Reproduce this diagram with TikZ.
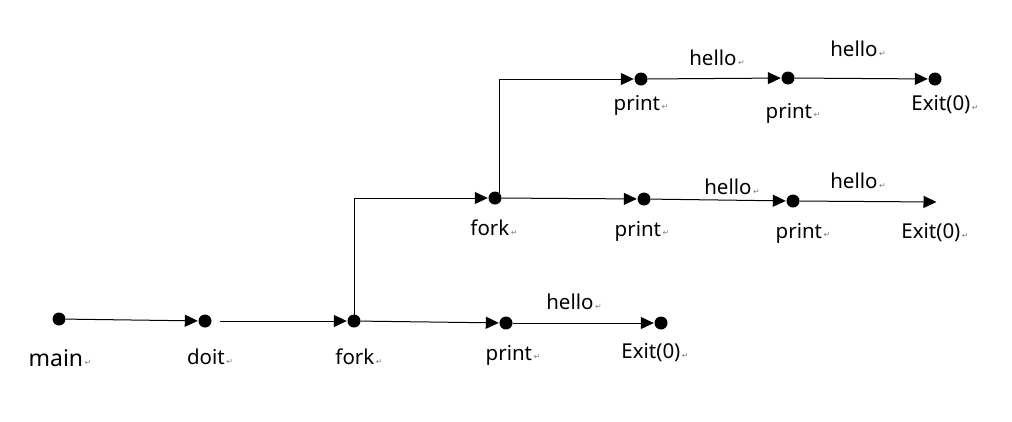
\documentclass[tikz,border=0pt]{standalone}
\usepackage{fontspec}
\setmainfont{Noto Sans}
\newfontfamily\symfont{DejaVu Sans}
\usetikzlibrary{arrows.meta}
\newcommand{\retmark}{\kern1.5pt{\symfont\fontsize{8}{8}\selectfont\color{gray}\raisebox{0.1ex}{↵}}}
\tikzset{
  dot/.style={circle,fill=black,inner sep=0pt,minimum size=13pt},
  lbl/.style={font=\fontsize{20.5}{24}\selectfont,inner sep=0pt},
  arr/.style={draw=black,line width=1pt,-{Triangle[length=13pt,width=12pt]},shorten >=0.5pt},
}
\begin{document}
\begin{tikzpicture}[x=1pt,y=-1pt]
\useasboundingbox (0,0) rectangle (1012,421);
% row 1
\node[dot] (main) at (59,319) {};
\node[dot] (doit) at (205,321) {};
\node[dot] (fa) at (354,321) {};
\node[dot] (pa) at (506,323) {};
\node[dot] (ea) at (661,323) {};
\node[lbl,font=\fontsize{23}{26}\selectfont] (lmain) at (60,358) {main\retmark};
\node[lbl] (ldoit) at (210,357) {doit\retmark};
\node[lbl] (lfa) at (359,357) {fork\retmark};
\node[lbl] (lpa) at (513,355) {print\retmark};
\node[lbl] (lea) at (655,353) {Exit(0)\retmark};
\node[lbl] (ha) at (574,302) {hello\retmark};
\draw[arr] (main) -- (doit);
\draw[arr,shorten <=8pt] (doit) -- (fa);
\draw[arr] (fa) -- (pa);
\draw[arr] (pa) -- (ea);
% row 2
\node[dot] (fb) at (495,198) {};
\node[dot] (pb) at (644,199) {};
\node[dot] (pb2) at (793,201) {};
\coordinate (eb) at (937,202);
\node[lbl] (lfb) at (494,228) {fork\retmark};
\node[lbl] (lpb) at (642,231) {print\retmark};
\node[lbl] (lpb2) at (803,233) {print\retmark};
\node[lbl] (leb) at (935,233) {Exit(0)\retmark};
\node[lbl] (hb) at (732,187) {hello\retmark};
\node[lbl] (hb2) at (858,181) {hello\retmark};
\draw[arr] (fa.center) |- (fb.west);
\draw[arr] (fb) -- (pb);
\draw[arr] (pb) -- (pb2);
\draw[arr] (pb2) -- (eb);
% row 3
\node[dot] (pc) at (641,79) {};
\node[dot] (pc2) at (788,78) {};
\node[dot] (ec) at (935,79) {};
\node[lbl] (lpc) at (641,105) {print\retmark};
\node[lbl] (lpc2) at (793,113) {print\retmark};
\node[lbl] (lec) at (945,105) {Exit(0)\retmark};
\node[lbl] (hc) at (717,58) {hello\retmark};
\node[lbl] (hc2) at (858,49) {hello\retmark};
\draw[arr] (fb.north east) |- (pc.west);
\draw[arr] (pc) -- (pc2);
\draw[arr] (pc2) -- (ec);
\end{tikzpicture}
\end{document}
